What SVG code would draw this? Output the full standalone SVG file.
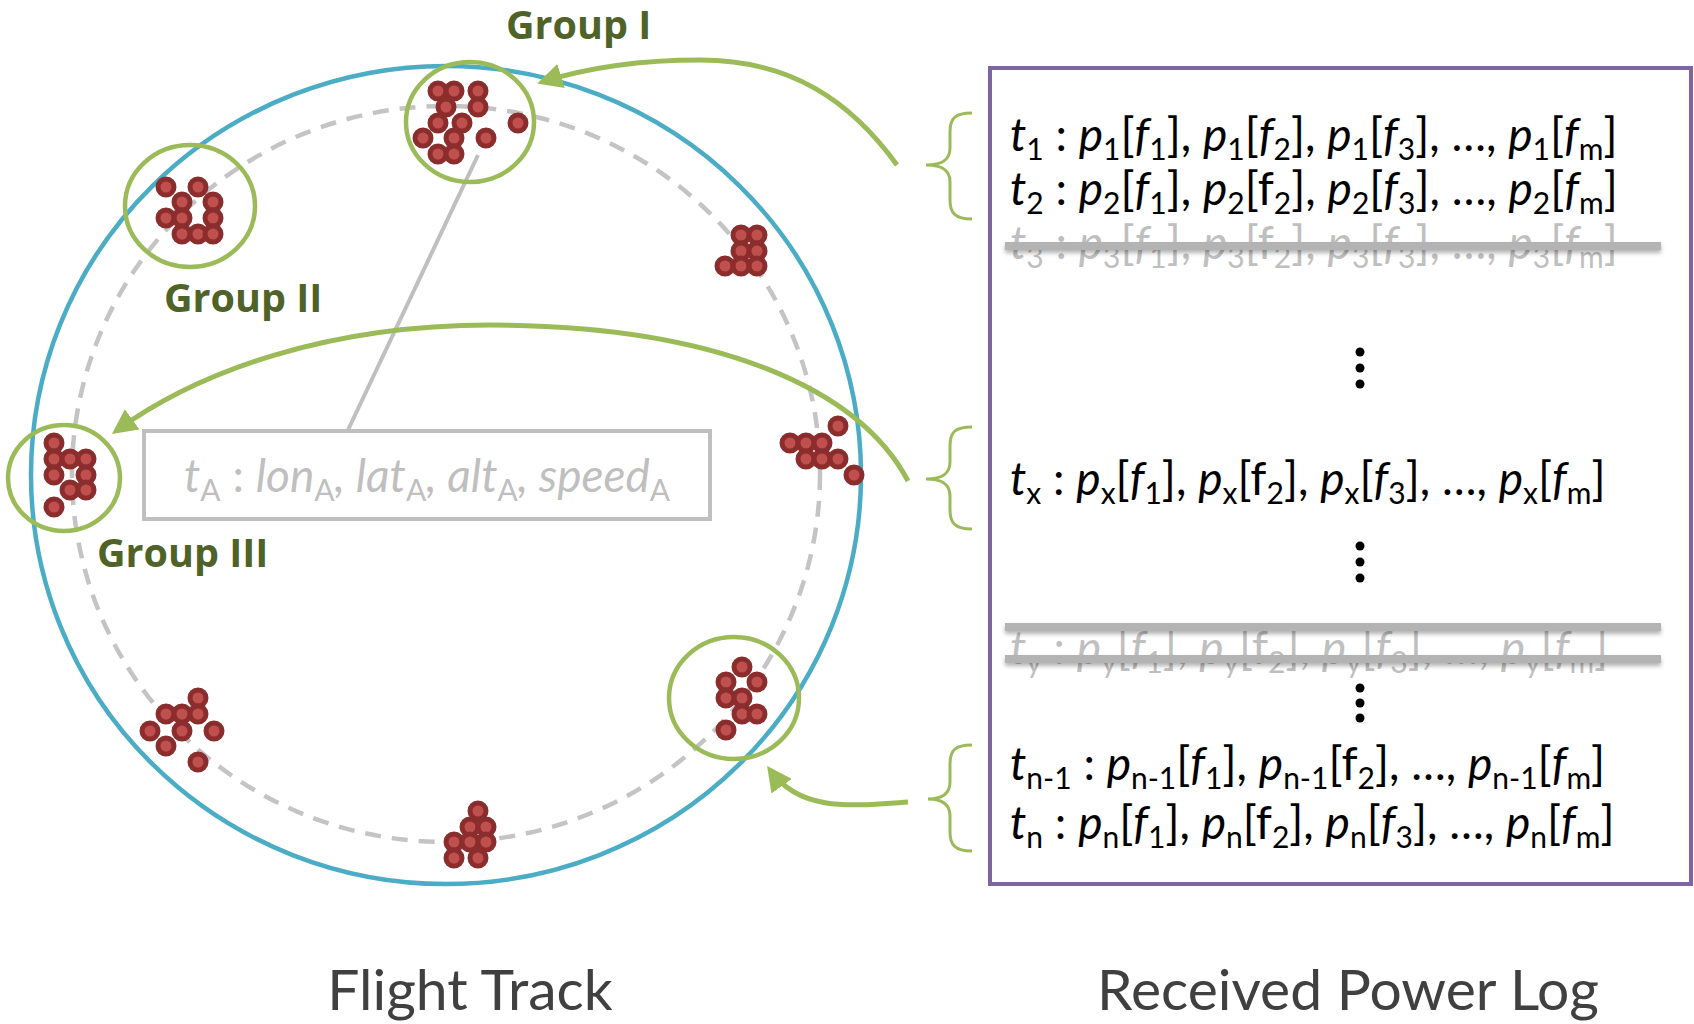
<svg xmlns="http://www.w3.org/2000/svg" width="1694" height="1024" viewBox="0 0 1694 1024">
<defs>
<style>
.dot{fill:#c0504d;stroke:#8c2d2d;stroke-width:5}
.ring{fill:none;stroke:#9bbb59;stroke-width:4.5}
.glabel{font-family:"Open Sans",Lato,sans-serif;font-weight:bold;font-size:39.5px;fill:#4f6228}
.m{font-family:Lato,"Open Sans",sans-serif;font-size:46px;fill:#000}
.g{fill:#bfbfbf}
.i{font-style:italic}
.s{font-size:30px;font-style:normal}
.brace{fill:none;stroke:#9bbb59;stroke-width:3}
.arrow{fill:none;stroke:#9bbb59;stroke-width:5;marker-end:url(#ah)}
.bar{fill:#b3b3b3;filter:url(#sh)}
.vdot{fill:#000}
.title{font-family:Lato,"Open Sans",sans-serif;font-size:57px;fill:#404040}
</style>
<marker id="ah" viewBox="0 0 10 10" refX="8" refY="5" markerWidth="5" markerHeight="5" orient="auto" markerUnits="strokeWidth">
<path d="M0,0 L10,5 L0,10 Z" fill="#9bbb59"/>
</marker>
<filter id="sh" filterUnits="userSpaceOnUse" x="980" y="200" width="710" height="500">
<feGaussianBlur in="SourceAlpha" stdDeviation="2"/>
<feOffset dy="3" result="b"/>
<feFlood flood-color="#000" flood-opacity="0.3"/>
<feComposite in2="b" operator="in"/>
<feMerge><feMergeNode/><feMergeNode in="SourceGraphic"/></feMerge>
</filter>
</defs>
<rect width="1694" height="1024" fill="#fff"/>

<g id="flight-track">
<ellipse cx="446" cy="475" rx="415" ry="409" fill="none" stroke="#4bacc6" stroke-width="4.5"/>
<ellipse cx="446" cy="474" rx="374" ry="368" fill="none" stroke="#c4c4c4" stroke-width="4.5" stroke-dasharray="16 11"/>
</g>

<g id="callout">
<line x1="478" y1="155" x2="348" y2="430" stroke="#bfbfbf" stroke-width="4"/>
<rect x="144" y="431" width="566" height="88" fill="#fff" stroke="#bfbfbf" stroke-width="4"/>
<text class="m g" x="184" y="492" font-size="46"><tspan class="i">t</tspan><tspan class="s" dy="9">A</tspan><tspan dy="-9"> : </tspan><tspan class="i">lon</tspan><tspan class="s" dy="9">A</tspan><tspan dy="-9" class="i">, lat</tspan><tspan class="s" dy="9">A</tspan><tspan dy="-9" class="i">, alt</tspan><tspan class="s" dy="9">A</tspan><tspan dy="-9" class="i">, speed</tspan><tspan class="s" dy="9">A</tspan></text>
</g>

<g id="group-1">
<circle class="dot" cx="438" cy="91" r="8"/><circle class="dot" cx="454" cy="91" r="8"/><circle class="dot" cx="478" cy="91" r="8"/>
<circle class="dot" cx="446" cy="107" r="8"/><circle class="dot" cx="478" cy="107" r="8"/>
<circle class="dot" cx="438" cy="123" r="8"/><circle class="dot" cx="462" cy="123" r="8"/><circle class="dot" cx="518" cy="123" r="8"/>
<circle class="dot" cx="423" cy="138" r="8"/><circle class="dot" cx="454" cy="138" r="8"/><circle class="dot" cx="486" cy="138" r="8"/>
<circle class="dot" cx="438" cy="154" r="8"/><circle class="dot" cx="454" cy="154" r="8"/>
<ellipse class="ring" cx="470" cy="122" rx="64" ry="60"/>
<text class="glabel" x="506" y="39">Group I</text>
</g>

<g id="group-2">
<circle class="dot" cx="166" cy="187" r="8"/><circle class="dot" cx="198" cy="187" r="8"/>
<circle class="dot" cx="182" cy="202" r="8"/><circle class="dot" cx="213" cy="202" r="8"/>
<circle class="dot" cx="166" cy="218" r="8"/><circle class="dot" cx="182" cy="218" r="8"/><circle class="dot" cx="213" cy="218" r="8"/>
<circle class="dot" cx="182" cy="234" r="8"/><circle class="dot" cx="198" cy="234" r="8"/><circle class="dot" cx="213" cy="234" r="8"/>
<ellipse class="ring" cx="190" cy="206" rx="65" ry="61"/>
<text class="glabel" x="164" y="312">Group II</text>
</g>

<g id="group-3">
<circle class="dot" cx="54" cy="443" r="8"/>
<circle class="dot" cx="54" cy="459" r="8"/><circle class="dot" cx="70" cy="459" r="8"/><circle class="dot" cx="86" cy="459" r="8"/>
<circle class="dot" cx="54" cy="475" r="8"/><circle class="dot" cx="86" cy="475" r="8"/>
<circle class="dot" cx="70" cy="490" r="8"/><circle class="dot" cx="86" cy="490" r="8"/>
<circle class="dot" cx="54" cy="507" r="8"/>
<ellipse class="ring" cx="64" cy="478" rx="56" ry="53"/>
<text class="glabel" x="97" y="567">Group III</text>
</g>

<g id="cluster-ne">
<circle class="dot" cx="741" cy="235" r="8"/><circle class="dot" cx="757" cy="235" r="8"/>
<circle class="dot" cx="741" cy="251" r="8"/><circle class="dot" cx="757" cy="251" r="8"/>
<circle class="dot" cx="725" cy="266" r="8"/><circle class="dot" cx="741" cy="266" r="8"/><circle class="dot" cx="757" cy="266" r="8"/>
</g>

<g id="cluster-e">
<circle class="dot" cx="838" cy="426" r="8"/>
<circle class="dot" cx="790" cy="443" r="8"/><circle class="dot" cx="806" cy="443" r="8"/><circle class="dot" cx="822" cy="443" r="8"/>
<circle class="dot" cx="806" cy="459" r="8"/><circle class="dot" cx="822" cy="459" r="8"/><circle class="dot" cx="838" cy="459" r="8"/>
<circle class="dot" cx="854" cy="475" r="8"/>
</g>

<g id="group-4">
<circle class="dot" cx="742" cy="667" r="8"/>
<circle class="dot" cx="726" cy="682" r="8"/><circle class="dot" cx="757" cy="682" r="8"/>
<circle class="dot" cx="726" cy="698" r="8"/><circle class="dot" cx="742" cy="698" r="8"/>
<circle class="dot" cx="742" cy="714" r="8"/><circle class="dot" cx="757" cy="714" r="8"/>
<circle class="dot" cx="726" cy="730" r="8"/>
<ellipse class="ring" cx="734" cy="698" rx="65" ry="61"/>
</g>

<g id="cluster-sw">
<circle class="dot" cx="198" cy="698" r="8"/>
<circle class="dot" cx="166" cy="714" r="8"/><circle class="dot" cx="182" cy="714" r="8"/><circle class="dot" cx="198" cy="714" r="8"/>
<circle class="dot" cx="150" cy="731" r="8"/><circle class="dot" cx="182" cy="731" r="8"/><circle class="dot" cx="214" cy="731" r="8"/>
<circle class="dot" cx="166" cy="746" r="8"/>
<circle class="dot" cx="198" cy="762" r="8"/>
</g>

<g id="cluster-s">
<circle class="dot" cx="478" cy="811" r="8"/>
<circle class="dot" cx="470" cy="827" r="8"/><circle class="dot" cx="486" cy="827" r="8"/>
<circle class="dot" cx="454" cy="842" r="8"/><circle class="dot" cx="470" cy="842" r="8"/><circle class="dot" cx="486" cy="842" r="8"/>
<circle class="dot" cx="454" cy="858" r="8"/><circle class="dot" cx="478" cy="858" r="8"/>
</g>

<g id="power-log">
<rect x="990" y="68" width="701" height="816" fill="none" stroke="#8064a2" stroke-width="4"/>
<text class="m" x="1010" y="151"><tspan class="i">t</tspan><tspan class="s" dy="9">1</tspan><tspan dy="-9"> : </tspan><tspan class="i">p</tspan><tspan class="s" dy="9">1</tspan><tspan dy="-9">[</tspan><tspan class="i">f</tspan><tspan class="s" dy="9">1</tspan><tspan dy="-9">], </tspan><tspan class="i">p</tspan><tspan class="s" dy="9">1</tspan><tspan dy="-9">[</tspan><tspan class="i">f</tspan><tspan class="s" dy="9">2</tspan><tspan dy="-9">], </tspan><tspan class="i">p</tspan><tspan class="s" dy="9">1</tspan><tspan dy="-9">[</tspan><tspan class="i">f</tspan><tspan class="s" dy="9">3</tspan><tspan dy="-9">], …, </tspan><tspan class="i">p</tspan><tspan class="s" dy="9">1</tspan><tspan dy="-9">[</tspan><tspan class="i">f</tspan><tspan class="s" dy="9">m</tspan><tspan dy="-9">]</tspan></text>
<text class="m" x="1010" y="205"><tspan class="i">t</tspan><tspan class="s" dy="9">2</tspan><tspan dy="-9"> : </tspan><tspan class="i">p</tspan><tspan class="s" dy="9">2</tspan><tspan dy="-9">[</tspan><tspan class="i">f</tspan><tspan class="s" dy="9">1</tspan><tspan dy="-9">], </tspan><tspan class="i">p</tspan><tspan class="s" dy="9">2</tspan><tspan dy="-9">[f</tspan><tspan class="s" dy="9">2</tspan><tspan dy="-9">], </tspan><tspan class="i">p</tspan><tspan class="s" dy="9">2</tspan><tspan dy="-9">[</tspan><tspan class="i">f</tspan><tspan class="s" dy="9">3</tspan><tspan dy="-9">], …, </tspan><tspan class="i">p</tspan><tspan class="s" dy="9">2</tspan><tspan dy="-9">[</tspan><tspan class="i">f</tspan><tspan class="s" dy="9">m</tspan><tspan dy="-9">]</tspan></text>
<text class="m g" x="1010" y="259"><tspan class="i">t</tspan><tspan class="s" dy="9">3</tspan><tspan dy="-9"> : </tspan><tspan class="i">p</tspan><tspan class="s" dy="9">3</tspan><tspan dy="-9">[</tspan><tspan class="i">f</tspan><tspan class="s" dy="9">1</tspan><tspan dy="-9">], </tspan><tspan class="i">p</tspan><tspan class="s" dy="9">3</tspan><tspan dy="-9">[f</tspan><tspan class="s" dy="9">2</tspan><tspan dy="-9">], </tspan><tspan class="i">p</tspan><tspan class="s" dy="9">3</tspan><tspan dy="-9">[</tspan><tspan class="i">f</tspan><tspan class="s" dy="9">3</tspan><tspan dy="-9">], …, </tspan><tspan class="i">p</tspan><tspan class="s" dy="9">3</tspan><tspan dy="-9">[</tspan><tspan class="i">f</tspan><tspan class="s" dy="9">m</tspan><tspan dy="-9">]</tspan></text>
<rect class="bar" x="1005" y="242" width="656" height="8"/>
<circle class="vdot" cx="1360" cy="352" r="4.5"/><circle class="vdot" cx="1360" cy="368" r="4.5"/><circle class="vdot" cx="1360" cy="384" r="4.5"/>
<text class="m" x="1010" y="495"><tspan class="i">t</tspan><tspan class="s" dy="9">x</tspan><tspan dy="-9"> : </tspan><tspan class="i">p</tspan><tspan class="s" dy="9">x</tspan><tspan dy="-9">[</tspan><tspan class="i">f</tspan><tspan class="s" dy="9">1</tspan><tspan dy="-9">], </tspan><tspan class="i">p</tspan><tspan class="s" dy="9">x</tspan><tspan dy="-9">[f</tspan><tspan class="s" dy="9">2</tspan><tspan dy="-9">], </tspan><tspan class="i">p</tspan><tspan class="s" dy="9">x</tspan><tspan dy="-9">[</tspan><tspan class="i">f</tspan><tspan class="s" dy="9">3</tspan><tspan dy="-9">], …, </tspan><tspan class="i">p</tspan><tspan class="s" dy="9">x</tspan><tspan dy="-9">[</tspan><tspan class="i">f</tspan><tspan class="s" dy="9">m</tspan><tspan dy="-9">]</tspan></text>
<circle class="vdot" cx="1360" cy="546" r="4.5"/><circle class="vdot" cx="1360" cy="562" r="4.5"/><circle class="vdot" cx="1360" cy="578" r="4.5"/>
<text class="m g" x="1010" y="664"><tspan class="i">t</tspan><tspan class="s" dy="9">y</tspan><tspan dy="-9"> : </tspan><tspan class="i">p</tspan><tspan class="s" dy="9">y</tspan><tspan dy="-9">[</tspan><tspan class="i">f</tspan><tspan class="s" dy="9">1</tspan><tspan dy="-9">], </tspan><tspan class="i">p</tspan><tspan class="s" dy="9">y</tspan><tspan dy="-9">[f</tspan><tspan class="s" dy="9">2</tspan><tspan dy="-9">], </tspan><tspan class="i">p</tspan><tspan class="s" dy="9">y</tspan><tspan dy="-9">[</tspan><tspan class="i">f</tspan><tspan class="s" dy="9">3</tspan><tspan dy="-9">], …, </tspan><tspan class="i">p</tspan><tspan class="s" dy="9">y</tspan><tspan dy="-9">[</tspan><tspan class="i">f</tspan><tspan class="s" dy="9">m</tspan><tspan dy="-9">]</tspan></text>
<rect class="bar" x="1005" y="623" width="656" height="8"/>
<rect class="bar" x="1005" y="655" width="656" height="8"/>
<circle class="vdot" cx="1360" cy="688" r="4.5"/><circle class="vdot" cx="1360" cy="703" r="4.5"/><circle class="vdot" cx="1360" cy="718" r="4.5"/>
<text class="m" x="1010" y="780"><tspan class="i">t</tspan><tspan class="s" dy="9">n-1</tspan><tspan dy="-9"> : </tspan><tspan class="i">p</tspan><tspan class="s" dy="9">n-1</tspan><tspan dy="-9">[</tspan><tspan class="i">f</tspan><tspan class="s" dy="9">1</tspan><tspan dy="-9">], </tspan><tspan class="i">p</tspan><tspan class="s" dy="9">n-1</tspan><tspan dy="-9">[f</tspan><tspan class="s" dy="9">2</tspan><tspan dy="-9">], …, </tspan><tspan class="i">p</tspan><tspan class="s" dy="9">n-1</tspan><tspan dy="-9">[</tspan><tspan class="i">f</tspan><tspan class="s" dy="9">m</tspan><tspan dy="-9">]</tspan></text>
<text class="m" x="1010" y="839"><tspan class="i">t</tspan><tspan class="s" dy="9">n</tspan><tspan dy="-9"> : </tspan><tspan class="i">p</tspan><tspan class="s" dy="9">n</tspan><tspan dy="-9">[</tspan><tspan class="i">f</tspan><tspan class="s" dy="9">1</tspan><tspan dy="-9">], </tspan><tspan class="i">p</tspan><tspan class="s" dy="9">n</tspan><tspan dy="-9">[f</tspan><tspan class="s" dy="9">2</tspan><tspan dy="-9">], </tspan><tspan class="i">p</tspan><tspan class="s" dy="9">n</tspan><tspan dy="-9">[</tspan><tspan class="i">f</tspan><tspan class="s" dy="9">3</tspan><tspan dy="-9">], …, </tspan><tspan class="i">p</tspan><tspan class="s" dy="9">n</tspan><tspan dy="-9">[</tspan><tspan class="i">f</tspan><tspan class="s" dy="9">m</tspan><tspan dy="-9">]</tspan></text>
</g>

<g id="braces">
<path class="brace" d="M972,113 C955,113 950,118 950,132 L950,148 C950,160 942,165 926,165 C942,165 950,170 950,182 L950,200 C950,213 955,219 972,219"/>
<path class="brace" d="M972,427 C955,427 950,432 950,446 L950,462 C950,474 942,479 926,479 C942,479 950,484 950,496 L950,510 C950,523 955,529 972,529"/>
<path class="brace" d="M972,745 C955,745 950,750 950,764 L950,782 C950,794 942,799 928,799 C942,799 950,804 950,816 L950,832 C950,845 955,851 972,851"/>
</g>

<g id="connectors">
<path class="arrow" d="M897,165 C850,100 790,60 700,60 C630,60 580,70 542,82"/>
<path class="arrow" d="M908,481 C860,390 720,325 490,325 C330,325 200,370 116,431"/>
<path class="arrow" d="M908,802 C850,806 800,812 770,770"/>
</g>

<text class="title" x="470" y="1010" text-anchor="middle">Flight Track</text>
<text class="title" x="1348" y="1010" text-anchor="middle">Received Power Log</text>
</svg>
